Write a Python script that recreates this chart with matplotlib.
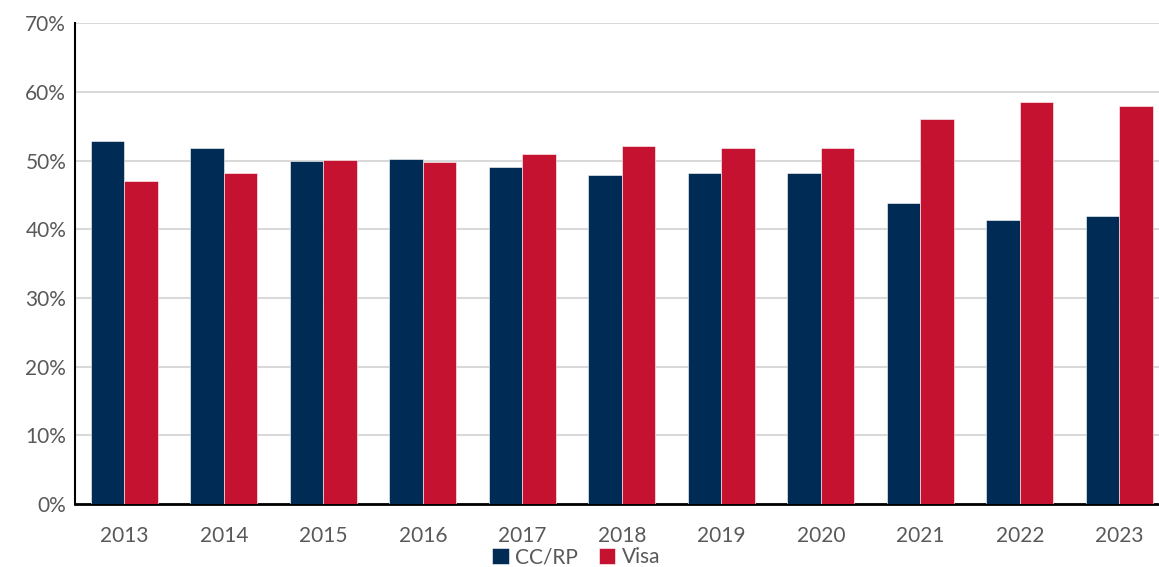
import numpy as np
import matplotlib
matplotlib.use("Agg")
import matplotlib.pyplot as plt
from matplotlib.ticker import PercentFormatter

years = ["2013", "2014", "2015", "2016", "2017", "2018",
         "2019", "2020", "2021", "2022", "2023"]
cc_rp = [52.9, 51.8, 49.9, 50.2, 49.0, 47.9, 48.2, 48.2, 43.9, 41.4, 42.0]
visa = [47.1, 48.2, 50.1, 49.8, 51.0, 52.1, 51.8, 51.8, 56.1, 58.6, 58.0]

NAVY = "#002b54"
RED = "#c41230"
TEXT = "#595959"

plt.rcParams["font.family"] = ["Lato", "DejaVu Sans"]

fig = plt.figure(figsize=(11.59, 5.67), dpi=100)
# axes runs slightly past the right edge of the figure, as in the original
ax = fig.add_axes([0.0643, 0.111, 0.9444, 0.848])

x = np.arange(len(years))
w = 0.335
ax.bar(x - w / 2, cc_rp, w, color=NAVY, edgecolor="#ffffff", linewidth=0.4,
       label="CC/RP", zorder=3)
ax.bar(x + w / 2, visa, w, color=RED, edgecolor="#ffffff", linewidth=0.4,
       label="Visa", zorder=3)

ax.set_xlim(-0.5, len(years) - 0.5)
ax.set_ylim(0, 70)
ax.set_yticks(np.arange(0, 71, 10))
ax.yaxis.set_major_formatter(PercentFormatter(decimals=0))
ax.set_xticks(x)
ax.set_xticklabels(years)
ax.grid(axis="y", color="#d9d9d9", linewidth=1.5, zorder=0)

for side in ["top", "right"]:
    ax.spines[side].set_visible(False)
ax.spines["left"].set_linewidth(1.5)
ax.spines["bottom"].set_linewidth(2)
ax.spines["left"].set_color("black")
ax.spines["bottom"].set_color("black")
ax.tick_params(axis="both", length=0, labelsize=15, colors=TEXT)
ax.tick_params(axis="x", pad=16)
ax.tick_params(axis="y", pad=6)

fig.legend(loc="center", bbox_to_anchor=(0.497, 0.017), ncol=2,
           frameon=False, fontsize=15, labelcolor=TEXT, handlelength=0.8,
           handleheight=0.8, handletextpad=0.3, columnspacing=1.0,
           borderaxespad=0, borderpad=0)

fig.savefig("out.png", dpi=100)
